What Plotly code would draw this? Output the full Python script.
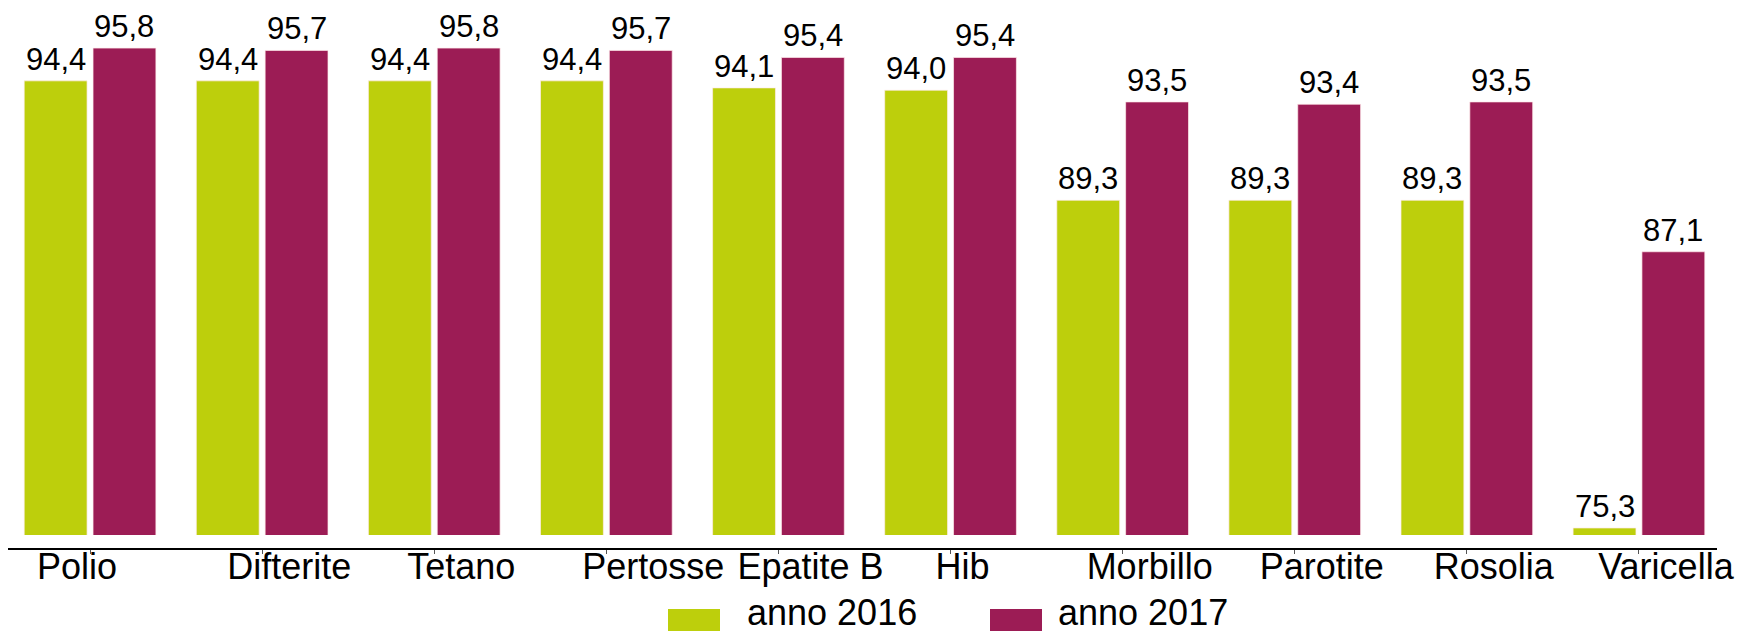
import plotly.graph_objects as go

categories = ["Polio", "Difterite", "Tetano", "Pertosse", "Epatite B", "Hib",
              "Morbillo", "Parotite", "Rosolia", "Varicella"]
NB = "\u00a0"
tick_labels = ["Polio" + NB * 8, "Difterite", "Tetano", NB * 4 + "Pertosse", NB + "Epatite B",
               "Hib" + NB * 3, "Morbillo", "Parotite", "Rosolia", "Varicella"]
anno_2016 = [94.4, 94.4, 94.4, 94.4, 94.1, 94.0, 89.3, 89.3, 89.3, 75.3]
anno_2017 = [95.8, 95.7, 95.8, 95.7, 95.4, 95.4, 93.5, 93.4, 93.5, 87.1]
series_names = ["anno 2016", "anno 2017"]

GREEN = "#BDCF0C"
MAROON = "#9C1C55"
FONT = "Liberation Sans, Arial, sans-serif"

# page body has an 8px default margin: figure is drawn 8px smaller, coordinates shifted
OFF = 8
W, H = 1745 - OFF, 632 - OFF
ML, MR, MT, MB = 0, 28, 12, 83
PW, PH = W - ML - MR, H - MT - MB
CAT_W = 172.1
BARGAP, GROUPGAP = 0.2, 0.087
slot = CAT_W * (1 - BARGAP) / 2
half = slot / 2
x_lo = -0.5 + 4 / CAT_W
x_hi = x_lo + PW / CAT_W


def px(x):
    return (x - OFF - ML) / PW


def py(y):
    return (H - MB - (y - OFF)) / PH


fig = go.Figure()
for name, vals, col, sh in [(series_names[0], anno_2016, GREEN, -half),
                            (series_names[1], anno_2017, MAROON, half)]:
    fig.add_trace(go.Bar(
        x=categories, y=vals, name=name,
        marker=dict(color=col, line=dict(color="rgba(255,235,235,0.7)", width=1)),
        showlegend=False,
    ))
    for c, v in zip(categories, vals):
        fig.add_annotation(x=c, y=v, xshift=sh, yshift=2, yanchor="bottom",
                           text=f"{v:.1f}".replace(".", ","), showarrow=False,
                           font=dict(family=FONT, size=31, color="black"))

fig.update_layout(
    width=W, height=H,
    margin=dict(l=ML, r=MR, t=MT, b=MB),
    paper_bgcolor="white", plot_bgcolor="white",
    barmode="group", bargap=BARGAP, bargroupgap=GROUPGAP,
    font=dict(family=FONT, color="black"),
    xaxis=dict(
        anchor="free", position=0,
        range=[x_lo, x_hi],
        showline=True, linecolor="black", linewidth=2,
        ticks="outside", ticklen=4, tickcolor="#555",
        tickvals=categories, ticktext=tick_labels,
        tickfont=dict(family=FONT, size=36, color="black"),
        ticklabelshift=27, ticklabelstandoff=-18,
        showgrid=False, zeroline=False,
    ),
    yaxis=dict(
        domain=[(549 - 535) / PH, 1],
        range=[75, 97.0],
        visible=False, showgrid=False, zeroline=False,
    ),
)

# Legend drawn manually (large swatches as in the reference)
legend_items = [(series_names[0], GREEN, 668, 720, 745), (series_names[1], MAROON, 990, 1042, 1056)]
for name, col, x0, x1, tx in legend_items:
    fig.add_shape(type="rect", xref="paper", yref="paper",
                  x0=px(x0), x1=px(x1), y0=py(631), y1=py(609),
                  fillcolor=col, line=dict(width=0))
    fig.add_annotation(xref="paper", yref="paper", x=px(tx), y=py(612),
                       text=name, showarrow=False, xanchor="left", yanchor="middle",
                       font=dict(family=FONT, size=36, color="black"))

fig.write_html("out.html")
